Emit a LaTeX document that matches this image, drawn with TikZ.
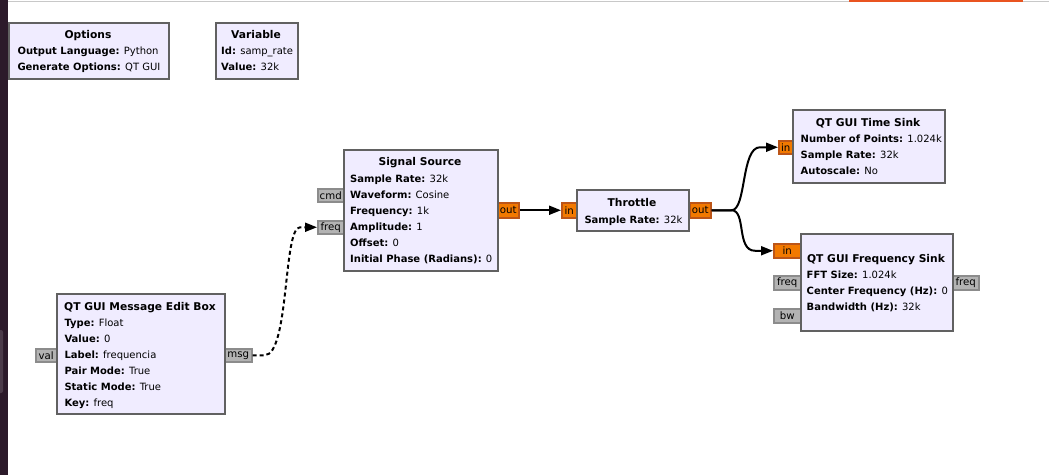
\documentclass[tikz,border=0pt]{standalone}
\usepackage{fontspec}
\setmainfont{DejaVu Sans}
\usetikzlibrary{arrows.meta,calc}
\definecolor{blockfill}{HTML}{F0ECFF}
\definecolor{blockdraw}{HTML}{616161}
\definecolor{msgfill}{HTML}{B3B3B3}
\definecolor{msgdraw}{HTML}{8C8C8C}
\definecolor{floatfill}{HTML}{F27900}
\definecolor{floatdraw}{HTML}{BC5518}
\definecolor{sidebar}{HTML}{2C1A2A}
\definecolor{sidebtn}{HTML}{4B3B49}
\definecolor{topline}{HTML}{C8C8C8}
\definecolor{ubuorange}{HTML}{E95420}
\newcommand\blines[4]{\foreach \t [count=\i] in {#4} {\node[bodytext] (#1-l\i) at (#2,#3+16*\i-16) {\t};}}
\begin{document}
\begin{tikzpicture}[x=1pt,y=-1pt,
  blockbox/.style={draw=blockdraw, fill=blockfill, line width=2pt, anchor=north west, inner sep=0pt},
  titletext/.style={anchor=base, inner sep=0pt, font=\fontsize{10.7}{13}\selectfont\bfseries},
  bodytext/.style={anchor=base west, inner sep=0pt, font=\fontsize{10}{12}\selectfont},
  port/.style={anchor=north west, inner sep=0pt, line width=1.5pt, font=\fontsize{10.2}{12}\selectfont},
  msgport/.style={port, draw=msgdraw, fill=msgfill},
  floatport/.style={port, draw=floatdraw, fill=floatfill},
  conn/.style={line width=2pt, -{Triangle[length=12pt,width=9pt]}},
  msgconn/.style={conn, dash pattern=on 4pt off 3pt}
]
\useasboundingbox (0,0) rectangle (1049,475);
\fill[white] (0,0) rectangle (1049,475);
% desktop chrome
\fill[sidebar] (0,0) rectangle (8,475);
\fill[sidebtn, rounded corners=2pt] (-4,330) rectangle (3,393);
\fill[topline] (8,1) rectangle (1049,2.2);
\fill[ubuorange] (849,0) rectangle (1023,2.2);

% ports
\node[msgport, minimum width=26pt, minimum height=13pt] (ss-cmd) at (317,188) {cmd};
\node[msgport, minimum width=26pt, minimum height=13pt] (ss-freq) at (317,220) {freq};
\node[floatport, minimum width=21pt, minimum height=15pt] (ss-out) at (497,202) {out};
\node[floatport, minimum width=15pt, minimum height=15pt] (thr-in) at (561,202) {in};
\node[floatport, minimum width=21pt, minimum height=15pt] (thr-out) at (689,202) {out};
\node[floatport, minimum width=14pt, minimum height=13pt] (ts-in) at (778,140) {in};
\node[floatport, minimum width=27pt, minimum height=14pt] (fs-in) at (773,243) {in};
\node[msgport, minimum width=27pt, minimum height=14pt] (fs-freq) at (773,275) {freq};
\node[msgport, minimum width=27pt, minimum height=14pt] (fs-bw) at (773,308) {bw};
\node[msgport, minimum width=26pt, minimum height=14pt] (fs-freqout) at (952,275) {freq};
\node[msgport, minimum width=21pt, minimum height=13pt] (meb-val) at (35,348) {val};
\node[msgport, minimum width=27pt, minimum height=13pt] (meb-msg) at (224,348) {msg};

% blocks
\node[blockbox, minimum width=160pt, minimum height=56pt] (opt) at (8,22) {};
\node[titletext] (opt-t) at (88,38) {Options};
\blines{opt}{17.3}{54.5}{{\textbf{Output Language:} Python},{\textbf{Generate Options:} QT GUI}}

\node[blockbox, minimum width=82pt, minimum height=56pt] (var) at (215,22) {};
\node[titletext] (var-t) at (256,38) {Variable};
\blines{var}{221}{54.5}{{\textbf{Id:} samp\_rate},{\textbf{Value:} 32k}}

\node[blockbox, minimum width=154pt, minimum height=121pt] (ss) at (343,149) {};
\node[titletext] (ss-t) at (420,165.8) {Signal Source};
\blines{ss}{350}{182.5}{{\textbf{Sample Rate:} 32k},{\textbf{Waveform:} Cosine},{\textbf{Frequency:} 1k},{\textbf{Amplitude:} 1},{\textbf{Offset:} 0},{\textbf{Initial Phase (Radians):} 0}}

\node[blockbox, minimum width=112pt, minimum height=41pt] (thr) at (576,189) {};
\node[titletext] (thr-t) at (632,206.5) {Throttle};
\blines{thr}{584.3}{223}{{\textbf{Sample Rate:} 32k}}

\node[blockbox, minimum width=152pt, minimum height=73pt] (ts) at (792,109) {};
\node[titletext] (ts-t) at (868,126) {QT GUI Time Sink};
\blines{ts}{800.5}{142.3}{{\textbf{Number of Points:} 1.024k},{\textbf{Sample Rate:} 32k},{\textbf{Autoscale:} No}}

\node[blockbox, minimum width=152pt, minimum height=97pt] (fs) at (800,233) {};
\node[titletext] (fs-t) at (876,262.3) {QT GUI Frequency Sink};
\blines{fs}{806.5}{278.3}{{\textbf{FFT Size:} 1.024k},{\textbf{Center Frequency (Hz):} 0},{\textbf{Bandwidth (Hz):} 32k}}

\node[blockbox, minimum width=168pt, minimum height=120pt] (meb) at (56,293) {};
\node[titletext] (meb-t) at (140,310) {QT GUI Message Edit Box};
\blines{meb}{64.3}{326.3}{{\textbf{Type:} Float},{\textbf{Value:} 0},{\textbf{Label:} frequencia},{\textbf{Pair Mode:} True},{\textbf{Static Mode:} True},{\textbf{Key:} freq}}

% connections
\draw[conn] (ss-out.east) -- (thr-in.west);
\draw[conn] (thr-out.east) -- ++(20,0) .. controls +(15,0) and +(-19,0) .. ($(ts-in.west)+(-18,0)$) -- (ts-in.west);
\draw[conn] (thr-out.east) -- ++(20,0) .. controls +(15,0) and +(-19,0) .. ($(fs-in.west)+(-18,0)$) -- (fs-in.west);
\draw[msgconn] (meb-msg.east) -- ++(12,0) .. controls +(25,0) and +(-17,0) .. ($(ss-freq.west)+(-17,0)$) -- (ss-freq.west);
\end{tikzpicture}
\end{document}
